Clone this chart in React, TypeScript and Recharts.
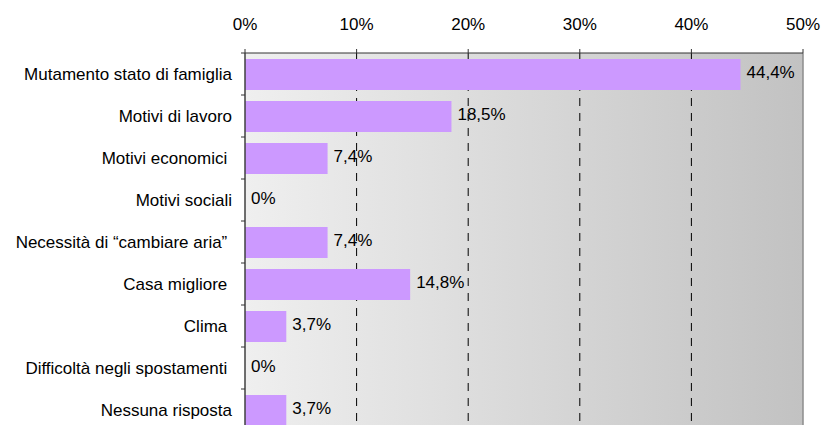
import React from 'react';
import { BarChart, Bar, XAxis, YAxis, CartesianGrid, LabelList, ReferenceLine } from 'recharts';

// categories (trailing blanks are kept as in the original labels)
const categories = [
  'Mutamento stato di famiglia',
  'Motivi di lavoro',
  'Motivi economici ',
  'Motivi sociali',
  'Necessità di “cambiare aria” ',
  'Casa migliore ',
  'Clima ',
  'Difficoltà negli spostamenti ',
  'Nessuna risposta',
];

// share of answers, in percent
const percentages = [44.4, 18.5, 7.4, 0, 7.4, 14.8, 3.7, 0, 3.7];

const xTicks = [0, 10, 20, 30, 40, 50];
const gridValues = [10, 20, 30, 40];

const data = categories.map((name, i) => ({ name, value: percentages[i] }));

const fmtPct = (v: number) => `${String(v).replace('.', ',')}%`;

const FONT = '"Liberation Sans", Arial, sans-serif';

const CategoryTick = (props: any) => {
  const { x, y, payload } = props;
  const half = payload && payload.offset ? payload.offset : 21;
  return (
    <g>
      <line x1={x + 9} x2={x + 13} y1={y - half} y2={y - half} stroke="#333" strokeWidth={1} />
      <text x={x} y={y} dy="0.355em" textAnchor="end" xmlSpace="preserve" fill="#000" fontSize={17}>
        {payload.value}
      </text>
    </g>
  );
};

const ValueLabel = (props: any) => {
  const vb = props.viewBox || {};
  const x = props.x ?? vb.x;
  const y = props.y ?? vb.y;
  const width = props.width ?? vb.width ?? 0;
  const height = props.height ?? vb.height ?? 0;
  const v = Number(props.value) || 0;
  // zero bars get a hairline minPointSize; keep their label at the axis
  const end = v === 0 ? x : x + width;
  return (
    <text x={end + 6} y={y + height / 2} dy={3.5} textAnchor="start" fill="#000" fontSize={17}>
      {fmtPct(v)}
    </text>
  );
};

export default function App() {
  return (
    <div
      style={{
        position: 'absolute',
        left: 0,
        top: 0,
        width: 821,
        height: 425,
        overflow: 'hidden',
        background: '#fff',
        fontFamily: FONT,
      }}
    >
      <BarChart
        width={821}
        height={440}
        data={data}
        layout="vertical"
        margin={{ top: 0, right: 18, bottom: 9, left: 0 }}
      >
        <defs>
          <linearGradient id="plotBg" x1="0" y1="0" x2="1" y2="0">
            <stop offset="0%" stopColor="#efefef" />
            <stop offset="100%" stopColor="#c2c2c2" />
          </linearGradient>
        </defs>
        <CartesianGrid
          horizontal={false}
          fill="url(#plotBg)"
          stroke="#000"
          strokeDasharray="8 7"
          verticalValues={gridValues}
        />
        <XAxis
          type="number"
          orientation="top"
          domain={[0, 50]}
          ticks={xTicks}
          interval={0}
          height={53}
          tickSize={4}
          tickMargin={19}
          tickFormatter={(v: number) => `${v}%`}
          axisLine={{ stroke: '#333', strokeWidth: 1 }}
          tickLine={{ stroke: '#333' }}
          tick={{ fill: '#000', fontSize: 17 }}
        />
        <YAxis
          type="category"
          dataKey="name"
          width={245}
          tickSize={4}
          tickMargin={9}
          tickLine={false}
          axisLine={{ stroke: '#404040', strokeWidth: 1.5 }}
          tick={<CategoryTick />}
          interval={0}
        />
        <ReferenceLine x={50} stroke="#8c8c8c" strokeWidth={1.5} />
        <Bar dataKey="value" fill="#cc99ff" barSize={31} minPointSize={0.01} isAnimationActive={false}>
          <LabelList dataKey="value" content={<ValueLabel />} />
        </Bar>
      </BarChart>
    </div>
  );
}
